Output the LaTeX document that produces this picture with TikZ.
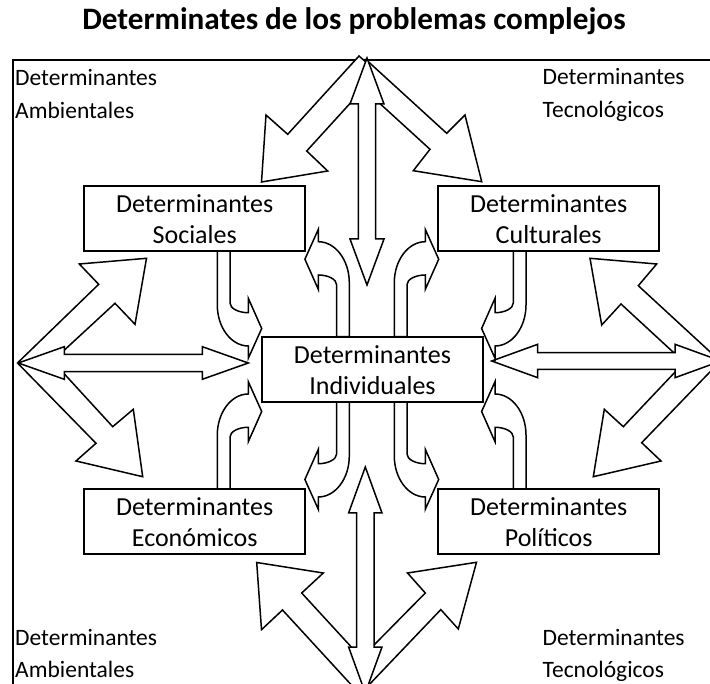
\documentclass[tikz,border=0pt]{standalone}
\usepackage{fontspec}
\setmainfont{Carlito}
\newcommand\uarr[3]{%
  \draw[blk, shift={#1}, xscale=#2, yscale=#3]
    (0,0) -- (0,54) .. controls (0,76.6) and (14,95) .. (31,95)
    -- (31,107.3) -- (44.4,77.5) -- (31,47.3) -- (31,61.7)
    .. controls (21,61.7) and (12.7,57.3) .. (12.7,52) -- (12.7,0) -- cycle;}
\begin{document}
\begin{tikzpicture}[x=1pt,y=-1pt,
  blk/.style={draw=black,fill=white,line width=1.5pt,line join=miter},
  box/.style={draw=black,fill=white,line width=1.5pt,minimum width=221pt,minimum height=65pt,inner sep=0pt},
  btxt/.style={anchor=base,inner sep=0pt,font=\fontsize{26}{31}\selectfont},
  ctxt/.style={anchor=base west,inner sep=0pt,font=\fontsize{23.5}{33}\selectfont},
  ttl/.style={anchor=base,inner sep=0pt,font=\fontsize{31.2}{36}\selectfont\bfseries}]
\useasboundingbox (0,0) rectangle (710,684);
% frame
\draw[line width=1.5pt] (13,700) -- (13,60) -- (720,60);
% title
\node[ttl] (title) at (354,30) {Determinates de los problemas complejos};
% ---------- diagonal arrows ----------
% top-left
\draw[blk] (261.5,182) -- (327.7,171) -- (306.7,151) -- (353.8,99.3) -- (367,63) -- (359,56) -- (287.7,134.3) -- (266,115) -- cycle;
% top-right
\draw[blk] (481.7,181.7) -- (413.3,170.7) -- (430,149.3) -- (378.3,102.1) -- (367,60.5) -- (446.7,133.3) -- (465,115) -- cycle;
% left-upper
\draw[blk] (146.5,258.3) -- (79.3,264) -- (98.7,284.3) -- (18.5,362) -- (24,363) -- (59.9,354.2) -- (115,303.3) -- (135,324.3) -- cycle;
% left-lower
\draw[blk] (142.7,476.7) -- (133.3,409.3) -- (112.7,426.7) -- (62,371.4) -- (24,363) -- (18.5,364) -- (96,443.3) -- (76,461) -- cycle;
% right-upper
\draw[blk] (590,258.3) -- (656.7,264) -- (638.3,285.7) -- (720,361) -- (678.3,356.9) -- (621,304) -- (601.7,325) -- cycle;
% right-lower
\draw[blk] (593.3,476.7) -- (604.3,409.3) -- (623.3,426.7) -- (678.3,368.6) -- (720,361.5) -- (641.7,442.7) -- (661,461) -- cycle;
% bottom-left
\draw[blk] (256.7,562.5) -- (323.3,573) -- (301.7,593) -- (357.2,653.4) -- (365,688) -- (356,690) -- (282.5,610) -- (261.5,629.7) -- cycle;
% bottom-right
\draw[blk] (476.5,562.3) -- (407.5,573) -- (425.3,593) -- (369.3,649.8) -- (366,688) -- (440.8,609.6) -- (458.3,629) -- cycle;
% ---------- straight double arrows ----------
\draw[blk] (367,58) -- (384,104) -- (375.7,104) -- (375.7,239) -- (384,239) -- (367,285) -- (350,239) -- (358.3,239) -- (358.3,104) -- (350,104) -- cycle;
\draw[blk] (365.3,467) -- (382,513) -- (374,513) -- (374,647) -- (382,647) -- (365.3,693) -- (348.6,647) -- (356.6,647) -- (356.6,513) -- (348.6,513) -- cycle;
\draw[blk] (18.3,363) -- (64.3,346.7) -- (64.3,354.3) -- (202.3,354.3) -- (202.3,346.7) -- (248.3,363) -- (202.3,379.3) -- (202.3,371.7) -- (64.3,371.7) -- (64.3,379.3) -- cycle;
\draw[blk] (491.7,361) -- (537.7,344.3) -- (537.7,352.7) -- (675,352.7) -- (675,344.3) -- (721,361) -- (675,377.7) -- (675,369.3) -- (537.7,369.3) -- (537.7,377.7) -- cycle;
% ---------- curved arrows ----------
\uarr{(217.3,251)}{1}{1}
\uarr{(349.3,336.7)}{-1}{-1}
\uarr{(394.3,336.7)}{1}{-1}
\uarr{(526,251)}{-1}{1}
\uarr{(217.3,489)}{1}{-1}
\uarr{(349.3,402)}{-1}{1}
\uarr{(394.3,402)}{1}{1}
\uarr{(526,489)}{-1}{-1}
% ---------- boxes ----------
\node[box] (soc) at (194.7,218.5) {};
\node[box] (cul) at (548.7,218.5) {};
\node[box] (ind) at (372.5,369.5) {};
\node[box] (eco) at (194.7,521.5) {};
\node[box] (pol) at (548.7,521.5) {};
\node[btxt] (soc1) at (194.7,213) {Determinantes};
\node[btxt] (soc2) at (194.7,244) {Sociales};
\node[btxt] (cul1) at (548.7,213) {Determinantes};
\node[btxt] (cul2) at (548.7,244) {Culturales};
\node[btxt] (ind1) at (372.5,364) {Determinantes};
\node[btxt] (ind2) at (372.5,395) {Individuales};
\node[btxt] (eco1) at (194.7,516) {Determinantes};
\node[btxt] (eco2) at (194.7,547) {Económicos};
\node[btxt] (pol1) at (548.7,516) {Determinantes};
\node[btxt] (pol2) at (548.7,547) {Políticos};
% ---------- corner labels ----------
\node[ctxt] (tl1) at (15,86) {Determinantes};
\node[ctxt] (tl2) at (15,119) {Ambientales};
\node[ctxt] (tr1) at (542.5,85) {Determinantes};
\node[ctxt] (tr2) at (542.5,118) {Tecnológicos};
\node[ctxt] (bl1) at (15,645) {Determinantes};
\node[ctxt] (bl2) at (15,677) {Ambientales};
\node[ctxt] (br1) at (542.5,645) {Determinantes};
\node[ctxt] (br2) at (542.5,677) {Tecnológicos};
\end{tikzpicture}
\end{document}
